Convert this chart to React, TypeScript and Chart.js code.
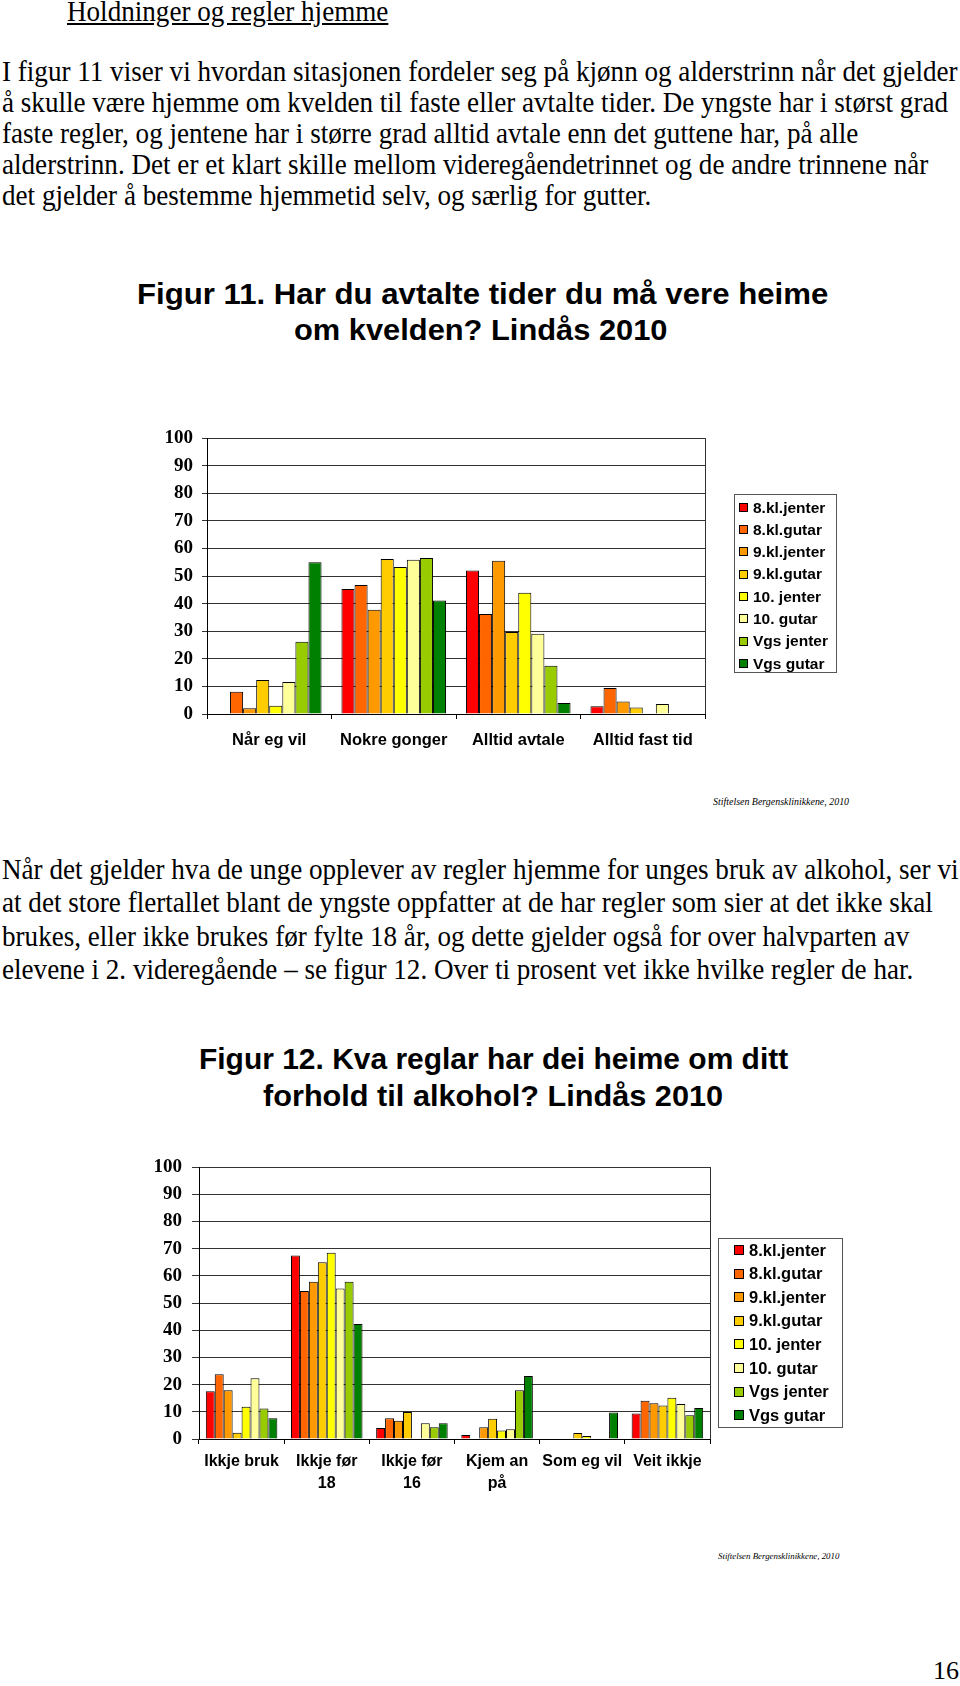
import React, { useEffect, useLayoutEffect, useRef } from 'react';
import { Chart, registerables } from 'chart.js';

Chart.register(...registerables);

// ---------- DATA ----------
const SERIES = ['8.kl.jenter', '8.kl.gutar', '9.kl.jenter', '9.kl.gutar', '10. jenter', '10. gutar', 'Vgs jenter', 'Vgs gutar'];
const COLORS = ['#FF0000', '#FF6600', '#FF9900', '#FFCC00', '#FFFF00', '#FFFF99', '#99CC00', '#008000'];

const fig11Categories = ['Når eg vil', 'Nokre gonger', 'Alltid avtale', 'Alltid fast tid'];
const fig11_8klJenter = [0, 45.3, 52.0, 2.8];
const fig11_8klGutar = [8.1, 46.7, 36.2, 9.4];
const fig11_9klJenter = [2.1, 37.8, 55.5, 4.5];
const fig11_9klGutar = [12.3, 56.2, 29.7, 2.4];
const fig11_10Jenter = [3.0, 53.3, 43.9, 0];
const fig11_10Gutar = [11.6, 55.9, 29.1, 3.6];
const fig11_VgsJenter = [26.2, 56.5, 17.5, 0];
const fig11_VgsGutar = [55.0, 41.1, 4.0, 0];

const fig12Categories = [['Ikkje bruk'], ['Ikkje før', '18'], ['Ikkje før', '16'], ['Kjem an', 'på'], ['Som eg vil'], ['Veit ikkje']];
const fig12_8klJenter = [17.6, 67.5, 4.0, 1.5, 0, 9.4];
const fig12_8klGutar = [23.8, 54.4, 7.6, 0, 0, 14.1];
const fig12_9klJenter = [17.9, 57.8, 6.7, 4.3, 0, 13.1];
const fig12_9klGutar = [2.3, 65.0, 9.9, 7.4, 2.2, 12.3];
const fig12_10Jenter = [11.9, 68.5, 0, 3.1, 1.1, 15.2];
const fig12_10Gutar = [22.3, 55.3, 5.8, 3.6, 0, 12.9];
const fig12_VgsJenter = [11.2, 57.8, 4.3, 17.9, 0, 8.7];
const fig12_VgsGutar = [7.6, 42.3, 5.8, 23.2, 9.7, 11.4];

const Y_MIN = 0;
const Y_MAX = 100;
const Y_STEP = 10;

const SERIF = '"Liberation Serif", "Times New Roman", serif';
const SANS = '"Liberation Sans", Arial, sans-serif';

// ---------- PLUGINS ----------
const boxLegend = {
  id: 'boxLegend',
  afterDraw(chart: any, _args: any, opts: any) {
    if (!opts || opts.x === undefined) return;
    const { ctx } = chart;
    ctx.save();
    ctx.strokeStyle = '#555';
    ctx.lineWidth = 1;
    ctx.strokeRect(opts.x + 0.5, opts.y + 0.5, opts.w, opts.h);
    ctx.font = opts.font;
    ctx.textBaseline = 'middle';
    ctx.textAlign = 'left';
    chart.data.datasets.forEach((ds: any, i: number) => {
      const cy = opts.first + i * opts.step;
      const sy = Math.round(cy - opts.sw / 2);
      ctx.fillStyle = ds.backgroundColor;
      ctx.fillRect(opts.sx, sy, opts.sw, opts.sw);
      ctx.strokeStyle = '#000';
      ctx.strokeRect(opts.sx + 0.5, sy + 0.5, opts.sw - 1, opts.sw - 1);
      ctx.fillStyle = '#000';
      ctx.fillText(ds.label, opts.tx, cy + 1);
    });
    ctx.restore();
  },
};

const rightBorder = {
  id: 'rightBorder',
  afterDraw(chart: any) {
    const { ctx, chartArea } = chart;
    ctx.save();
    ctx.strokeStyle = '#333';
    ctx.lineWidth = 1;
    const x = Math.round(chartArea.right) + 0.5;
    ctx.beginPath();
    ctx.moveTo(x, chartArea.top);
    ctx.lineTo(x, chartArea.bottom);
    ctx.stroke();
    ctx.restore();
  },
};

type ChartProps = {
  left: number; top: number; width: number; height: number;
  labels: any[]; series: number[][];
  yAxisWidth: number; xAxisHeight: number; padTop: number; padRight: number;
  yTickSize: number; yTickPad: number; yTickLen: number;
  xTickSize: number; xTickPad: number; xLineHeight: number;
  legend: any;
};

function BarChart(p: ChartProps) {
  const ref = useRef<HTMLCanvasElement>(null);
  useEffect(() => {
    const chart = new Chart(ref.current as HTMLCanvasElement, {
      type: 'bar',
      data: {
        labels: p.labels,
        datasets: p.series.map((d, i) => ({
          label: SERIES[i],
          data: d,
          backgroundColor: COLORS[i],
          borderColor: '#000',
          borderWidth: 1,
          barPercentage: 1,
          categoryPercentage: 0.84,
        })),
      },
      options: {
        animation: false,
        responsive: false,
        maintainAspectRatio: false,
        devicePixelRatio: 1,
        events: [],
        layout: { padding: { top: p.padTop, right: p.padRight, bottom: 0, left: 0 } },
        plugins: {
          legend: { display: false },
          tooltip: { enabled: false },
          boxLegend: p.legend,
        } as any,
        scales: {
          x: {
            grid: { offset: true, drawOnChartArea: false, drawTicks: true, tickLength: 5, color: '#000' },
            border: { display: true, color: '#000' },
            ticks: {
              font: { family: SANS, size: p.xTickSize, weight: 'bold', lineHeight: p.xLineHeight },
              color: '#000', padding: p.xTickPad, maxRotation: 0, autoSkip: false,
            },
            afterFit: (s: any) => { s.height = p.xAxisHeight; },
          },
          y: {
            min: Y_MIN, max: Y_MAX,
            ticks: { stepSize: Y_STEP, font: { family: SERIF, size: p.yTickSize, weight: 'bold' }, color: '#000', padding: p.yTickPad },
            grid: { color: '#333', tickLength: p.yTickLen },
            border: { display: true, color: '#000' },
            afterFit: (s: any) => { s.width = p.yAxisWidth; },
          },
        } as any,
      },
      plugins: [boxLegend, rightBorder],
    } as any);
    return () => chart.destroy();
  }, []);
  return (
    <canvas ref={ref} width={p.width} height={p.height}
      style={{ position: 'absolute', left: p.left, top: p.top, width: p.width, height: p.height }} />
  );
}

// ---------- TEXT ----------
type TL = { text: string; left: number; cy: number; size: number; family: string; weight?: string; italic?: boolean; fitW?: number; body?: boolean; bodyRef?: boolean; underline?: boolean };

const BODY = 29;
const TEXT_LINES: TL[] = [
  { text: 'Holdninger og regler hjemme', left: 67, cy: 13, size: BODY, family: SERIF, body: true, underline: true },
  { text: 'I figur 11 viser vi hvordan sitasjonen fordeler seg på kjønn og alderstrinn når det gjelder', left: 2, cy: 73, size: BODY, family: SERIF, body: true, bodyRef: true, fitW: 956 },
  { text: 'å skulle være hjemme om kvelden til faste eller avtalte tider. De yngste har i størst grad', left: 2, cy: 104, size: BODY, family: SERIF, body: true },
  { text: 'faste regler, og jentene har i større grad alltid avtale enn det guttene har, på alle', left: 2, cy: 134.5, size: BODY, family: SERIF, body: true },
  { text: 'alderstrinn. Det er et klart skille mellom videregåendetrinnet og de andre trinnene når', left: 2, cy: 165.5, size: BODY, family: SERIF, body: true },
  { text: 'det gjelder å bestemme hjemmetid selv, og særlig for gutter.', left: 2, cy: 197, size: BODY, family: SERIF, body: true },

  { text: 'Figur 11. Har du avtalte tider du må vere heime', left: 137, cy: 293.5, size: 30, family: SANS, weight: 'bold', fitW: 691 },
  { text: 'om kvelden? Lindås 2010', left: 293.5, cy: 330, size: 30, family: SANS, weight: 'bold', fitW: 373 },
  { text: 'Stiftelsen Bergensklinikkene, 2010', left: 713, cy: 802, size: 10, family: SERIF, italic: true, fitW: 136 },

  { text: 'Når det gjelder hva de unge opplever av regler hjemme for unges bruk av alkohol, ser vi', left: 2, cy: 871, size: BODY, family: SERIF, body: true },
  { text: 'at det store flertallet blant de yngste oppfatter at de har regler som sier at det ikke skal', left: 2, cy: 904, size: BODY, family: SERIF, body: true },
  { text: 'brukes, eller ikke brukes før fylte 18 år, og dette gjelder også for over halvparten av', left: 2, cy: 937.5, size: BODY, family: SERIF, body: true },
  { text: 'elevene i 2. videregående – se figur 12. Over ti prosent vet ikke hvilke regler de har.', left: 2, cy: 971, size: BODY, family: SERIF, body: true },

  { text: 'Figur 12. Kva reglar har dei heime om ditt', left: 199, cy: 1059, size: 30, family: SANS, weight: 'bold', fitW: 589 },
  { text: 'forhold til alkohol? Lindås 2010', left: 263, cy: 1096, size: 30, family: SANS, weight: 'bold', fitW: 460 },
  { text: 'Stiftelsen Bergensklinikkene, 2010', left: 718, cy: 1557, size: 9, family: SERIF, italic: true, fitW: 121 },

  { text: '16', left: 933, cy: 1672, size: 26, family: SERIF, fitW: 26 },
];

export default function App() {
  const boxRef = useRef<HTMLDivElement>(null);

  useLayoutEffect(() => {
    const root = boxRef.current;
    if (!root) return;
    const refEl = root.querySelector('[data-bodyref]') as HTMLElement | null;
    let bodyScale = 1;
    if (refEl) bodyScale = Number(refEl.dataset.fitw) / refEl.offsetWidth;
    root.querySelectorAll('[data-line]').forEach((node) => {
      const el = node as HTMLElement;
      let s = 1;
      if (el.dataset.body) s = bodyScale;
      else if (el.dataset.fitw) s = Number(el.dataset.fitw) / el.offsetWidth;
      el.style.transform = `scaleX(${s})`;
    });
  }, []);

  return (
    <div ref={boxRef} style={{ position: 'absolute', left: 0, top: 0, width: 960, height: 1686, background: '#fff', overflow: 'hidden' }}>
      {TEXT_LINES.map((t, i) => {
        const isSerif = t.family === SERIF;
        const topOff = isSerif ? 0.54 : 0.49;
        return (
          <span key={i}
            data-line="1"
            data-body={t.body ? '1' : undefined}
            data-bodyref={t.bodyRef ? '1' : undefined}
            data-fitw={t.fitW !== undefined ? String(t.fitW) : undefined}
            style={{
              position: 'absolute', left: t.left, top: t.cy - t.size * topOff,
              display: 'inline-block', whiteSpace: 'nowrap',
              fontFamily: t.family, fontSize: t.size, lineHeight: `${t.size}px`,
              fontWeight: t.weight === 'bold' ? 700 : 400,
              fontStyle: t.italic ? 'italic' : 'normal',
              textDecoration: t.underline ? 'underline' : 'none',
              color: '#000', transformOrigin: 'left center',
            }}>
            {t.text}
          </span>
        );
      })}

      <BarChart
        left={140} top={400} width={720} height={370}
        labels={fig11Categories}
        series={[fig11_8klJenter, fig11_8klGutar, fig11_9klJenter, fig11_9klGutar, fig11_10Jenter, fig11_10Gutar, fig11_VgsJenter, fig11_VgsGutar]}
        yAxisWidth={67} xAxisHeight={56} padTop={38} padRight={155}
        yTickSize={19} yTickPad={9} yTickLen={5}
        xTickSize={16.5} xTickPad={12} xLineHeight={1.2}
        legend={{ x: 594, y: 94, w: 102, h: 178, first: 107.3, step: 22.3, sx: 599, sw: 9, tx: 613, font: `bold 15.5px ${SANS}` }}
      />

      <BarChart
        left={110} top={1140} width={760} height={380}
        labels={fig12Categories}
        series={[fig12_8klJenter, fig12_8klGutar, fig12_9klJenter, fig12_9klGutar, fig12_10Jenter, fig12_10Gutar, fig12_VgsJenter, fig12_VgsGutar]}
        yAxisWidth={89} xAxisHeight={81} padTop={27} padRight={160}
        yTickSize={19} yTickPad={10} yTickLen={7}
        xTickSize={16} xTickPad={7} xLineHeight={1.375}
        legend={{ x: 608, y: 98, w: 124, h: 189, first: 110, step: 23.6, sx: 624, sw: 10, tx: 639, font: `bold 16.5px ${SANS}` }}
      />
    </div>
  );
}
